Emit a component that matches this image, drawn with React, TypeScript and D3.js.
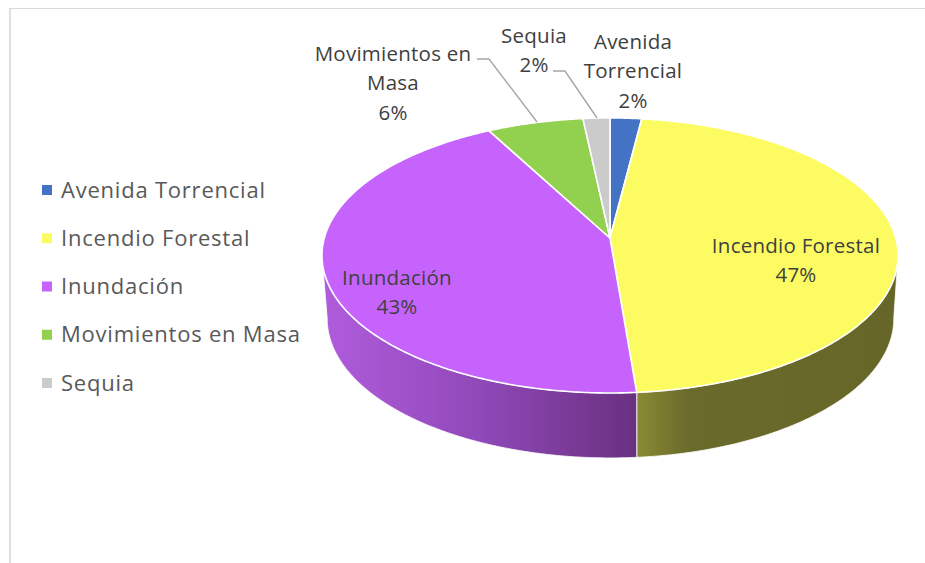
import React from "react";
import * as d3 from "d3";

const categories = ["Avenida Torrencial", "Incendio Forestal", "Inundación", "Movimientos en Masa", "Sequia"];
const shares = [2.0, 46.7, 43.49, 6.11, 1.7];
const colors = ["#4472C4", "#FCFC62", "#C663FC", "#92D050", "#CBCBCB"];

const W = 925, H = 563;
const FONT = "'Open Sans', 'Noto Sans', sans-serif";

// Perspective-projected disc
const P = 0.127;
const top = { x0: 610, y0: 238, A: 285.7, B: 135.3 };
const bot = { x0: 610.5, y0: 301, A: 281, B: 137 };
type Disc = typeof top;
const project = (d: Disc, a: number): [number, number] => {
  const u = Math.sin(a), v = -Math.cos(a), k = 1 - P * v;
  return [d.x0 + (d.A * u) / k, d.y0 + (d.B * v) / k];
};
const rim = (d: Disc, a0: number, a1: number): [number, number][] => {
  const n = Math.max(2, Math.ceil(Math.abs(a1 - a0) / 0.01));
  return d3.range(n + 1).map((i) => project(d, a0 + ((a1 - a0) * i) / n));
};

const arcs = d3.pie<number>().sort(null).value((d) => d)(shares);
const total = d3.sum(shares);
const pct = d3.format(".0%");
const line = d3.line();

const SIDE_MIN = (97.2 * Math.PI) / 180;
const SIDE_MAX = (262.8 * Math.PI) / 180;

const labelLayout = [
  { x: 633, y: 42, lines: ["Avenida", "Torrencial"] },
  { x: 796, y: 246, lines: ["Incendio Forestal"] },
  { x: 397, y: 278, lines: ["Inundación"] },
  { x: 393, y: 54, lines: ["Movimientos en", "Masa"] },
  { x: 534, y: 36, lines: ["Sequia"] },
];
const legendY = d3.scalePoint<string>().domain(categories).range([190, 383]);

const sideGrad = [
  { id: "g1", x1: 637, x2: 898, stops: [[0, "#8A8A35"], [0.2, "#6A6A2B"], [1, "#666628"]] },
  { id: "g2", x1: 322, x2: 637, stops: [[0, "#B05CDC"], [0.5, "#9049B8"], [1, "#693080"]] },
];

export default function App() {
  return (
    <svg width={W} height={H} viewBox={`0 0 ${W} ${H}`} style={{ position: "absolute", left: 0, top: 0, background: "#fff" }} fontFamily={FONT}>
      <defs>
        {sideGrad.map((g) => (
          <linearGradient key={g.id} id={g.id} gradientUnits="userSpaceOnUse" x1={g.x1} x2={g.x2} y1={0} y2={0}>
            {g.stops.map(([o, c]) => <stop key={o as number} offset={o as number} stopColor={c as string} />)}
          </linearGradient>
        ))}
      </defs>
      <path d={`M10 563V8.5`} fill="none" stroke="#D9D9D9" strokeWidth={1.6} />
      <path d={`M9 8.5H${W}`} fill="none" stroke="#D9D9D9" strokeWidth={1} />

      {arcs.map((a, i) => {
        const s = Math.max(a.startAngle, SIDE_MIN), e = Math.min(a.endAngle, SIDE_MAX);
        if (e <= s) return null;
        const pts = [...rim(top, s, e), ...rim(bot, e, s)];
        return <path key={i} d={line(pts)! + "Z"} fill={`url(#g${i})`} stroke="#fff" strokeOpacity={0.8} strokeWidth={1} />;
      })}

      {arcs.map((a, i) => {
        const pts = [[top.x0, top.y0] as [number, number], ...rim(top, a.startAngle, a.endAngle)];
        return <path key={i} d={line(pts)! + "Z"} fill={colors[i]} stroke="#fff" strokeWidth={1.6} strokeLinejoin="round" />;
      })}

      <polyline points="477,59 489,59 537,122" fill="none" stroke="#A6A6A6" strokeWidth={1.4} />
      <polyline points="553,71 565,71 597,118" fill="none" stroke="#A6A6A6" strokeWidth={1.4} />

      {labelLayout.map((l, i) => (
        <text key={i} x={l.x} y={l.y} textAnchor="middle" fontSize={20.5} letterSpacing={0.25} fill="#404040">
          {[...l.lines, pct(shares[i] / total)].map((t, j) => (
            <tspan key={j} x={l.x} y={l.y + j * 29.3} dy="0.35em">{t}</tspan>
          ))}
        </text>
      ))}

      {categories.map((c, i) => (
        <g key={c}>
          <rect x={42} y={legendY(c)! - 5} width={10} height={10} fill={colors[i]} />
          <text x={61} y={legendY(c)!} dy="0.35em" fontSize={22} letterSpacing={0.78} fill="#595959">{c}</text>
        </g>
      ))}
    </svg>
  );
}
